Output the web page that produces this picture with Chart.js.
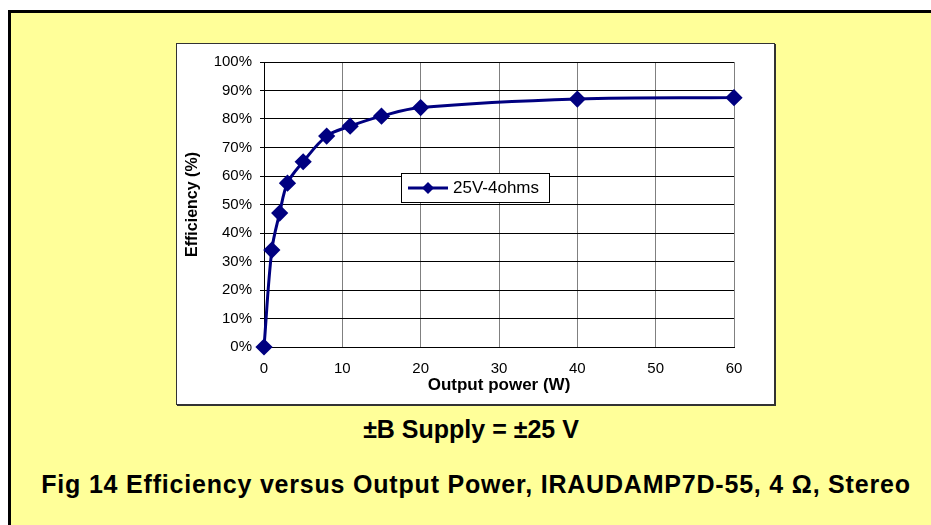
<!DOCTYPE html>
<html>
<head>
<meta charset="utf-8">
<script src="https://cdn.jsdelivr.net/npm/chart.js@4.4.1/dist/chart.umd.min.js"></script>
<style>
  html, body { margin: 0; padding: 0; background: #fff; width: 931px; height: 525px; overflow: hidden; }
  .panel { position: absolute; left: 8px; top: 10px; width: 960px; height: 560px; background: #ffff99; border: 3px solid #000; box-sizing: border-box; }
  .frame { position: absolute; left: 176px; top: 43px; width: 599px; height: 362px; background: #fff; }
  .frame-border { position: absolute; left: 176px; top: 43px; width: 599px; height: 362px; border: 1px solid #333; box-sizing: border-box; box-shadow: 1px 1px 0 #333; pointer-events: none; }
  .cap { position: absolute; left: 0; text-align: center; font-family: "Liberation Sans", Arial, sans-serif; font-weight: bold; color: #000; line-height: 1; white-space: nowrap; }
</style>
</head>
<body>
<div class="panel"></div>
<div class="frame"><canvas id="c" width="599" height="362"></canvas></div>
<div class="frame-border"></div>
<div class="cap" style="top:417px; width:942px; font-size:25px;">±B Supply = ±25 V</div>
<div class="cap" style="top:472px; width:952px; font-size:25px; letter-spacing:0.8px;">Fig 14 Efficiency versus Output Power, IRAUDAMP7D-55, 4 Ω, Stereo</div>
<script>
// values
const powerW = [0, 1, 2, 3, 5, 8, 11, 15, 20, 40, 60];
const efficiencyPct = [0, 34, 47, 57.5, 65, 74, 77.5, 81, 84, 87, 87.5];
const seriesName = '25V-4ohms';
const xTicks = [0, 10, 20, 30, 40, 50, 60];
const yTicks = [0, 10, 20, 30, 40, 50, 60, 70, 80, 90, 100];

const NAVY = '#000080';
const FONT = '"Liberation Sans", Arial, sans-serif';

// legend box sits inside the plot like in the Excel chart
const boxLegend = {
  id: 'boxLegend',
  afterDraw(chart) {
    const ctx = chart.ctx;
    const x = 225, y = 130, w = 148, h = 29;
    ctx.save();
    ctx.fillStyle = '#fff';
    ctx.fillRect(x, y, w, h);
    ctx.strokeStyle = '#000';
    ctx.lineWidth = 1;
    ctx.strokeRect(x + 0.5, y + 0.5, w, h);
    const my = y + h / 2 + 0.5;
    ctx.strokeStyle = NAVY;
    ctx.lineWidth = 3;
    ctx.beginPath();
    ctx.moveTo(x + 7, my);
    ctx.lineTo(x + 47, my);
    ctx.stroke();
    ctx.fillStyle = NAVY;
    ctx.beginPath();
    ctx.moveTo(x + 27, my - 6);
    ctx.lineTo(x + 33, my);
    ctx.lineTo(x + 27, my + 6);
    ctx.lineTo(x + 21, my);
    ctx.closePath();
    ctx.fill();
    ctx.fillStyle = '#000';
    ctx.font = '17px ' + FONT;
    ctx.textBaseline = 'middle';
    ctx.fillText(chart.data.datasets[0].label, x + 52, my);
    ctx.restore();
  }
};

new Chart(document.getElementById('c'), {
  type: 'line',
  data: {
    datasets: [{
      label: seriesName,
      data: powerW.map((p, i) => ({ x: p, y: efficiencyPct[i] })),
      borderColor: NAVY,
      backgroundColor: NAVY,
      borderWidth: 3,
      tension: 0.35,
      pointStyle: 'rectRot',
      pointRadius: 6.5,
      pointHoverRadius: 6.5,
      clip: false
    }]
  },
  options: {
    responsive: false,
    animation: false,
    layout: { padding: { left: 0, top: 19, right: 41, bottom: 0 } },
    plugins: { legend: { display: false }, tooltip: { enabled: false } },
    scales: {
      x: {
        type: 'linear',
        min: 0, max: 60,
        afterBuildTicks: s => { s.ticks = xTicks.map(v => ({ value: v })); },
        afterFit: s => { s.height = 58; },
        ticks: { color: '#000', font: { size: 15, family: FONT }, padding: 13, maxRotation: 0 },
        grid: { color: '#808080', lineWidth: 1, tickLength: 0 },
        border: { color: '#000', width: 1 },
        title: { display: true, text: 'Output power (W)', color: '#000', font: { size: 17, weight: 'bold', family: FONT }, padding: { top: 0, bottom: 9 } }
      },
      y: {
        min: 0, max: 100,
        afterBuildTicks: s => { s.ticks = yTicks.map(v => ({ value: v })); },
        afterFit: s => { s.width = 88; },
        ticks: { color: '#000', font: { size: 15, family: FONT }, padding: 8, callback: v => v + '%' },
        grid: { color: '#000', lineWidth: 1, tickLength: 4 },
        border: { color: '#000', width: 1 },
        title: { display: true, text: 'Efficiency (%)', color: '#000', font: { size: 16, weight: 'bold', family: FONT }, padding: { top: 7, bottom: 0 } }
      }
    }
  },
  plugins: [boxLegend]
});
</script>
</body>
</html>
